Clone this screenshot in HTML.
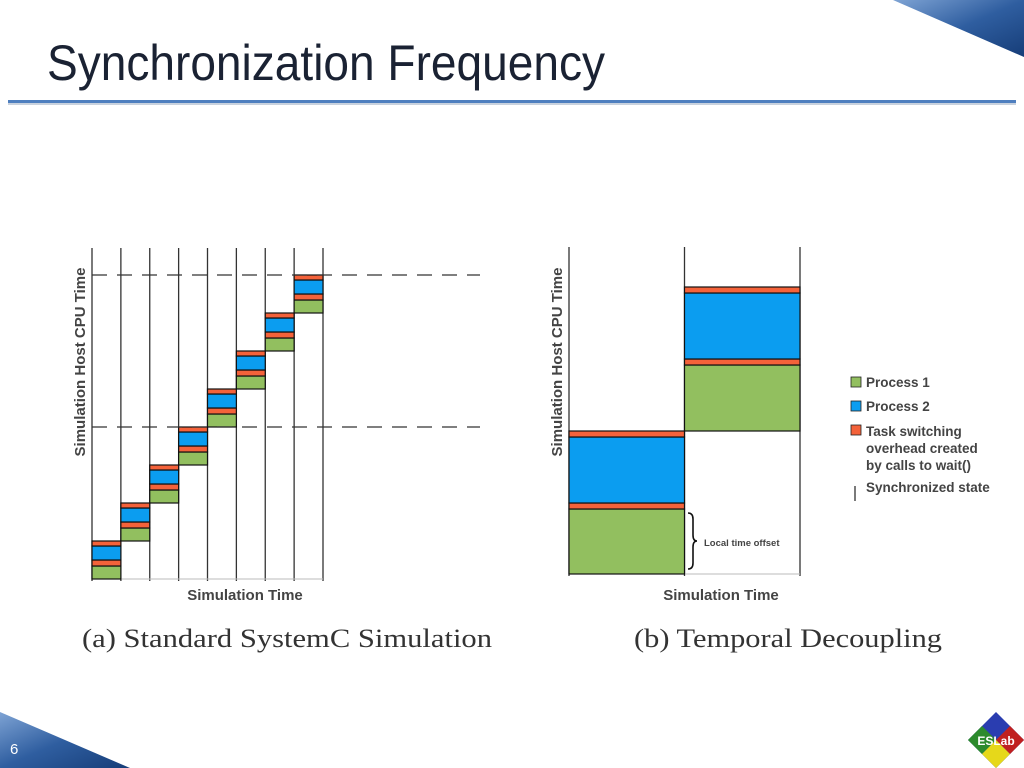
<!DOCTYPE html>
<html><head><meta charset="utf-8">
<style>
html,body{margin:0;padding:0;background:#fff;}
body{width:1024px;height:768px;overflow:hidden;position:relative;font-family:"Liberation Sans",sans-serif;}
svg{position:absolute;left:0;top:0;}
</style></head>
<body>
<svg id="s" width="1024" height="768" viewBox="0 0 1024 768">
<defs>
<linearGradient id="cg" x1="0" y1="0" x2="1" y2="1">
<stop offset="0" stop-color="#7ea3d4"/><stop offset="0.5" stop-color="#2f5ea0"/><stop offset="1" stop-color="#163d78"/></linearGradient>
</defs>
<polygon points="893,0 1024,0 1024,57" fill="url(#cg)"/>
<polygon points="0,712 0,768 130,768" fill="url(#cg)"/>
<text x="47" y="80" font-size="50" fill="#1a2233" textLength="558" lengthAdjust="spacingAndGlyphs">Synchronization Frequency</text>
<rect x="8" y="100" width="1008" height="3" fill="#4f7fbf"/>
<rect x="8" y="103" width="1008" height="2" fill="#c9d2de"/>
<text x="10" y="754" font-size="15" fill="#fff">6</text>
<g>
<polygon points="996,712 1024,740 996,768 968,740" fill="#2a3db0"/>
<polygon points="982,726 996,740 982,754 968,740" fill="#2c8a2c"/>
<polygon points="1010,726 1024,740 1010,754 996,740" fill="#c02020"/>
<polygon points="996,740 1010,754 996,768 982,754" fill="#e6d81a"/>
<text x="996" y="745" font-size="12" font-weight="bold" fill="#fff" text-anchor="middle">ESLab</text>
</g>
<g id="left"></g>
<g id="right"></g>
<g>
<g><rect x="851" y="377" width="10" height="10" fill="#92bf5f" stroke="#222" stroke-width="0.8"/><text x="866" y="387" font-size="13.5" font-weight="bold" fill="#444">Process 1</text></g>
<g><rect x="851" y="401" width="10" height="10" fill="#0b9df0" stroke="#222" stroke-width="0.8"/><text x="866" y="411" font-size="13.5" font-weight="bold" fill="#444">Process 2</text></g>
<g><rect x="851" y="425" width="10" height="10" fill="#f4623a" stroke="#222" stroke-width="0.8"/><text font-size="13.5" font-weight="bold" fill="#444"><tspan x="866" y="436">Task switching</tspan><tspan x="866" y="453">overhead created</tspan><tspan x="866" y="470">by calls to wait()</tspan></text></g>
<g><line x1="855" y1="486" x2="855" y2="501" stroke="#222" stroke-width="1.2"/><text x="866" y="492" font-size="13.5" font-weight="bold" fill="#444">Synchronized state</text></g>
</g>
<text x="82" y="647" font-size="26" font-family="Liberation Serif,serif" fill="#333" textLength="410" lengthAdjust="spacingAndGlyphs">(a)  Standard SystemC Simulation</text>
<text x="634" y="647" font-size="26" font-family="Liberation Serif,serif" fill="#333" textLength="308" lengthAdjust="spacingAndGlyphs">(b)  Temporal Decoupling</text>
</svg>
<script>
// Left chart data: per simulation-time step, segment heights (host time units)
const leftSteps = [1,2,3,4,5,6,7,8];
const leftP1 = [13,13,13,13,13,13,13,13];
const leftOv1 = [6,6,6,6,6,6,6,6];
const leftP2 = [14,14,14,14,14,14,14,14];
const leftOv2 = [5,5,5,5,5,5,5,5];
const leftSync = [4,8];
// Right chart data
const rightSteps = [1,2];
const rightP1 = [65,66];
const rightOv1 = [6,6];
const rightP2 = [66,66];
const rightOv2 = [6,6];

const NS="http://www.w3.org/2000/svg";
const C={p1:"#92bf5f",ov:"#f4623a",p2:"#0b9df0"};
function mk(p,tag,a){const e=document.createElementNS(NS,tag);for(const k in a)e.setAttribute(k,a[k]);p.appendChild(e);return e;}
const sum=(a,n)=>a.slice(0,n).reduce((x,y)=>x+y,0);

function drawChart(g,cfg,steps,p1,ov1,p2,ov2){
  const n=steps.length;
  const xs=i=>cfg.x0+i*(cfg.x1-cfg.x0)/n;
  const ys=v=>cfg.y0-v*cfg.k;
  for(let i=0;i<=n;i++){
    const l=mk(g,"line",{x1:xs(i),y1:cfg.top,x2:xs(i),y2:cfg.y0+2,stroke:"#333","stroke-width":1.3});
    
    
  }
  const ax=mk(g,"line",{x1:cfg.x0,y1:cfg.y0,x2:cfg.x1,y2:cfg.y0,stroke:"#bbb","stroke-width":1});
  
  
  let base=0;
  for(let i=0;i<n;i++){
    const segs=[[p1[i],C.p1,'process-1'],[ov1[i],C.ov,'overhead'],[p2[i],C.p2,'process-2'],[ov2[i],C.ov,'overhead']];
    for(const [h,c,nm] of segs){
      const r=mk(g,"rect",{x:xs(i),y:ys(base+h),width:xs(i+1)-xs(i),height:h*cfg.k,fill:c,stroke:"#111","stroke-width":1.2});
      
      
      base+=h;
    }
  }
  return {xs,ys};
}

const L=document.getElementById('left');
const lc={x0:92,x1:323,y0:579,k:1,top:248};
const la=drawChart(L,lc,leftSteps,leftP1,leftOv1,leftP2,leftOv2);
for(const s of leftSync){
  const y=la.ys(sum(leftP1,s)+sum(leftOv1,s)+sum(leftP2,s)+sum(leftOv2,s));
  const d=mk(L,"line",{x1:92,y1:y,x2:480,y2:y,stroke:"#333","stroke-width":1.2,"stroke-dasharray":"15,10"});
  
  
}
const lt=mk(L,"text",{x:245,y:600,"font-size":15,"font-weight":"bold",fill:"#444","text-anchor":"middle"});lt.textContent="Simulation Time";


const ly=mk(L,"text",{x:0,y:0,"font-size":15,"font-weight":"bold",fill:"#444","text-anchor":"middle",transform:"translate(85,362) rotate(-90)"});ly.textContent="Simulation Host CPU Time";



const R=document.getElementById('right');
const rc={x0:569,x1:800,y0:574,k:1,top:247};
drawChart(R,rc,rightSteps,rightP1,rightOv1,rightP2,rightOv2);
const rt=mk(R,"text",{x:721,y:600,"font-size":15,"font-weight":"bold",fill:"#444","text-anchor":"middle"});rt.textContent="Simulation Time";


const ry=mk(R,"text",{x:0,y:0,"font-size":15,"font-weight":"bold",fill:"#444","text-anchor":"middle",transform:"translate(562,362) rotate(-90)"});ry.textContent="Simulation Host CPU Time";


const br=mk(R,"path",{d:"M688,513 q5,0 5,6 v16 q0,6 4,6 q-4,0 -4,6 v16 q0,6 -5,6",fill:"none",stroke:"#111","stroke-width":1.6});


const bt=mk(R,"text",{x:704,y:546,"font-size":9.5,"font-weight":"bold",fill:"#444"});bt.textContent="Local time offset";


</script>
</body></html>
